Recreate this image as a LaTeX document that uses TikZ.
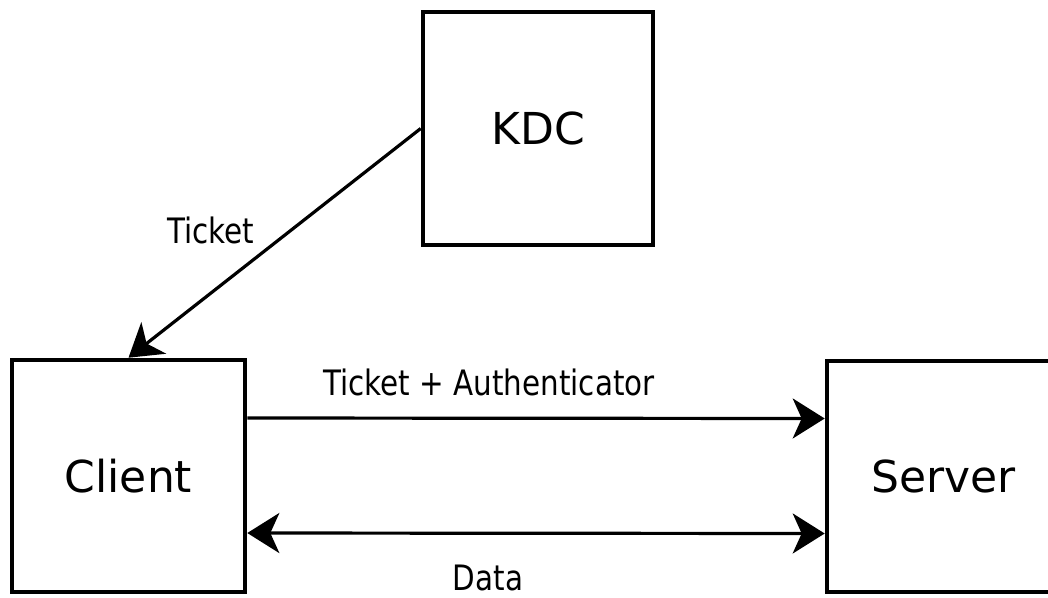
\documentclass[tikz,border=0pt]{standalone}
\usepackage{fontspec}
\setmainfont{DejaVu Sans}
\newfontfamily\lblfont{DejaVu Sans}[FakeStretch=0.84]
\usetikzlibrary{arrows.meta}

\tikzset{
  party/.style={draw=black, line width=4.6pt, minimum width=230pt, minimum height=230pt,
    inner sep=0pt, font=\fontsize{44}{50}\selectfont},
  msg/.style={line width=3.2pt, -{Stealth[length=32pt,width=40pt,inset=9pt]}},
  lbl/.style={inner sep=0pt, font=\lblfont\fontsize{35}{40}\selectfont}
}

\begin{document}
\begin{tikzpicture}[x=1pt,y=-1pt]
\useasboundingbox (0,0) rectangle (1048,597);
\clip (0,0) rectangle (1048,597);

\node[party, minimum height=233pt] (kdc) at (538,128.5) {KDC};
\node[party, minimum width=233pt, minimum height=232pt] (client) at (128.5,476) {Client};
\node[party, minimum width=233pt, minimum height=231pt] (server) at (943.5,476.5) {Server};

\draw[msg] (kdc.west) -- (client.north);
\draw[msg] ([yshift=58pt]client.east) -- ([yshift=58pt]server.west);
\draw[msg, {Stealth[length=32pt,width=40pt,inset=9pt]}-{Stealth[length=32pt,width=40pt,inset=9pt]}] ([yshift=-57pt]client.east) -- ([yshift=-57pt]server.west);

\node[lbl] (ticketlbl) at (211,230) {Ticket};
\node[lbl] (authlbl) at (489,382) {Ticket + Authenticator};
\node[lbl] (datalbl) at (488,578) {Data};
\end{tikzpicture}
\end{document}
